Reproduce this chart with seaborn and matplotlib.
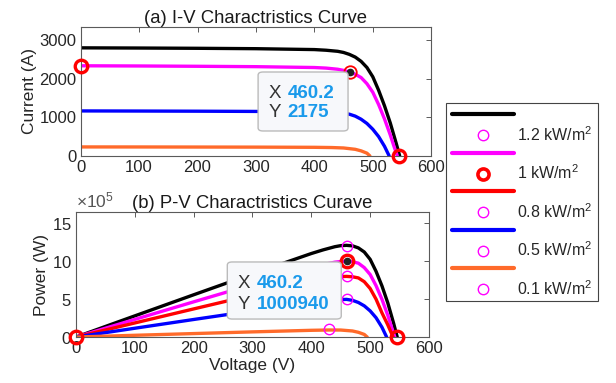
import matplotlib
matplotlib.use("Agg")
import matplotlib.pyplot as plt
import matplotlib.ticker as mticker
from matplotlib.lines import Line2D
from matplotlib.patches import FancyBboxPatch, Rectangle
import numpy as np
import pandas as pd
import seaborn as sns

# ---------------- data ----------------
# I-V curves
v_black = [0, 100, 200, 300, 400, 420, 440, 450, 460, 470, 480, 490, 500, 510, 520, 530, 540, 546]
i_black = [2800, 2795, 2788, 2778, 2755, 2738, 2710, 2680, 2630, 2560, 2450, 2290, 2050, 1700, 1300, 850, 330, 0]
v_mag = [0, 100, 200, 300, 400, 420, 440, 450, 460.2, 470, 480, 490, 500, 510, 520, 530, 536, 542]
i_mag = [2335, 2330, 2322, 2312, 2290, 2275, 2245, 2215, 2175, 2115, 2030, 1870, 1650, 1330, 960, 540, 260, 0]
v_blue = [0, 100, 200, 300, 400, 420, 440, 450, 460, 470, 480, 490, 500, 510, 520, 528]
i_blue = [1165, 1162, 1158, 1152, 1138, 1128, 1110, 1098, 1080, 1030, 950, 840, 690, 500, 250, 0]
v_orange = [0, 100, 200, 300, 400, 430, 450, 470, 480, 490, 495]
i_orange = [232, 231, 229, 227, 222, 216, 205, 170, 130, 70, 0]

# P-V curves (x1e5 W)
p_black = [0, 2.795, 5.576, 8.334, 11.02, 11.50, 11.92, 12.06, 12.10, 12.03, 11.76, 11.22, 10.25, 8.67, 6.76, 4.5, 1.78, 0]
p_mag = [0, 2.33, 4.644, 6.936, 9.16, 9.555, 9.878, 9.9675, 10.0094, 9.9405, 9.744, 9.163, 8.25, 6.783, 4.992, 2.862, 1.394, 0]
v_red = [0, 100, 200, 300, 400, 420, 440, 450, 460, 470, 480, 490, 500, 510, 520, 530, 539]
p_red = [0, 1.86, 3.71, 5.55, 7.33, 7.62, 7.92, 7.98, 8.0, 7.95, 7.8, 7.3, 6.4, 5.0, 3.2, 1.6, 0]
p_blue = [0, 1.162, 2.316, 3.456, 4.552, 4.738, 4.884, 4.941, 4.968, 4.841, 4.56, 4.116, 3.45, 2.55, 1.3, 0]
p_orange = [0, 0.231, 0.458, 0.681, 0.888, 0.929, 0.923, 0.799, 0.624, 0.343, 0]

# marked points
mpp_v = [460, 460, 460, 430]
mpp_p = [12.0, 8.0, 5.0, 1.0]           # x1e5, magenta open circles
tip_v = 460.2
tip_i = 2175
tip_p = 1000940
isc_mark = 2330
voc_mark = 545

labels = ["1.2 kW/m$^2$", "1 kW/m$^2$", "0.8 kW/m$^2$", "0.5 kW/m$^2$", "0.1 kW/m$^2$"]

C_BLACK = "#000000"
C_MAG = "#FF00FF"
C_RED = "#FF0000"
C_BLUE = "#0000FF"
C_ORANGE = "#FF6A2A"
C_TIP = "#1A9AEB"

# ---------------- style ----------------
sns.set_style("white")
plt.rcParams["font.family"] = ["Liberation Sans", "DejaVu Sans"]
plt.rcParams["mathtext.fontset"] = "custom"
plt.rcParams["mathtext.rm"] = "Liberation Sans"
plt.rcParams["axes.edgecolor"] = "#5a5a5a"
plt.rcParams["axes.linewidth"] = 0.8

fig = plt.figure(figsize=(6.16, 3.83), dpi=100)
ax1 = fig.add_axes([0.131, 0.593, 0.569, 0.3365])
ax2 = fig.add_axes([0.1234, 0.120, 0.573, 0.3265])

LW = 2.4

def line(ax, x, y, c):
    sns.lineplot(x=np.array(x, float), y=np.array(y, float), color=c, lw=LW,
                 ax=ax, estimator=None, sort=False)

# I-V
line(ax1, v_black, i_black, C_BLACK)
line(ax1, v_mag, i_mag, C_MAG)
line(ax1, v_blue, i_blue, C_BLUE)
line(ax1, v_orange, i_orange, C_ORANGE)
ax1.plot([0, voc_mark], [isc_mark, 0], ls="none", marker="o", ms=9, mfc="none",
         mec=C_RED, mew=2.4, clip_on=False, zorder=5)
ax1.plot([tip_v], [tip_i], ls="none", marker="o", ms=9, mfc="none",
         mec=C_RED, mew=1.3, zorder=5)
ax1.plot([tip_v], [tip_i], ls="none", marker="o", ms=4.5, mfc="#222222",
         mec="#222222", zorder=6)

# P-V
line(ax2, v_black, np.array(p_black) * 1e5, C_BLACK)
line(ax2, v_mag, np.array(p_mag) * 1e5, C_MAG)
line(ax2, v_red, np.array(p_red) * 1e5, C_RED)
line(ax2, v_blue, np.array(p_blue) * 1e5, C_BLUE)
line(ax2, v_orange, np.array(p_orange) * 1e5, C_ORANGE)
ax2.plot(mpp_v, np.array(mpp_p) * 1e5, ls="none", marker="o", ms=7.5, mfc="none",
         mec=C_MAG, mew=1.0, zorder=5)
ax2.plot([0, voc_mark, tip_v], [0, 0, tip_p], ls="none", marker="o", ms=9, mfc="none",
         mec=C_RED, mew=2.4, clip_on=False, zorder=5)
ax2.plot([tip_v], [tip_p], ls="none", marker="o", ms=4.5, mfc="#222222",
         mec="#222222", zorder=6)

for ax in (ax1, ax2):
    ax.set_xlim(0, 600)
    ax.set_xticks([0, 100, 200, 300, 400, 500, 600])
    ax.tick_params(direction="in", length=3.5, width=0.7, labelsize=12,
                   top=True, right=True, pad=3, colors="#5a5a5a", labelcolor="#262626")
    for s in ax.spines.values():
        s.set_visible(True)
    ax.grid(False)

ax1.set_ylim(0, 3340)
ax1.set_yticks([0, 1000, 2000, 3000])
ax1.set_title("(a) I-V Charactristics Curve", fontsize=13.3, pad=3, color="#1a1a1a")
ax1.set_ylabel("Current (A)", fontsize=12.5, labelpad=2, color="#262626")
ax1.set_xlabel("")

ax2.set_ylim(0, 1.65e6)
ax2.set_yticks([0, 5e5, 10e5, 15e5])
fmt = mticker.ScalarFormatter(useMathText=True)
fmt.set_powerlimits((5, 5))
ax2.yaxis.set_major_formatter(fmt)
ax2.yaxis.get_offset_text().set_fontsize(12.5)
ax2.yaxis.get_offset_text().set_color("#555555")
ax2.set_title("(b) P-V Charactristics Curave", fontsize=13.3, pad=3, color="#1a1a1a")
ax2.set_ylabel("Power (W)", fontsize=12.5, labelpad=2, color="#262626")
ax2.set_xlabel("Voltage (V)", fontsize=12.5, labelpad=1, color="#262626")

# legend (alternating line / marker rows as in the original)
cols = [C_BLACK, C_MAG, C_RED, C_BLUE, C_ORANGE]
handles, hlabels = [], []
for k in range(5):
    handles.append(Line2D([], [], color=cols[k], lw=3))
    hlabels.append(" ")
    if k == 1:
        handles.append(Line2D([], [], ls="none", marker="o", ms=8, mfc="none",
                              mec=C_RED, mew=2.6))
    else:
        handles.append(Line2D([], [], ls="none", marker="o", ms=7.5, mfc="none",
                              mec=C_MAG, mew=1.0))
    hlabels.append(labels[k])
leg = fig.legend(handles, hlabels, loc="upper left", bbox_to_anchor=(0.724, 0.733),
                 fontsize=11.5, frameon=False,
                 handlelength=3.9, handletextpad=0.2, labelspacing=0.15,
                 borderpad=0.35, borderaxespad=0)
frame = Rectangle((0.724, 0.214), 0.971 - 0.724, 0.731 - 0.214, transform=fig.transFigure,
                  facecolor="none", edgecolor="#444444", lw=0.8, zorder=3)
fig.patches.append(frame)

# data tips
def datatip(x0, y0, x1, y1, tx, vx, ty1, ty2, xs, ys):
    w, h = x1 - x0, y1 - y0
    box = FancyBboxPatch((x0, y0), w, h, boxstyle="round,pad=0,rounding_size=0.008",
                         transform=fig.transFigure, facecolor="#F7F8FB",
                         edgecolor="#BBBBBB", lw=1.0, zorder=10)
    fig.patches.append(box)
    fig.text(tx, ty1, "X", fontsize=13.5, color="#333333", va="center", zorder=11)
    fig.text(vx, ty1, xs, fontsize=13.5, color=C_TIP, fontweight="bold", va="center", zorder=11)
    fig.text(tx, ty2, "Y", fontsize=13.5, color="#333333", va="center", zorder=11)
    fig.text(vx, ty2, ys, fontsize=13.5, color=C_TIP, fontweight="bold", va="center", zorder=11)

datatip(0.419, 0.658, 0.565, 0.812, 0.436, 0.467, 0.757, 0.705,
        f"{tip_v:.1f}", f"{tip_i}")
datatip(0.369, 0.167, 0.554, 0.316, 0.386, 0.417, 0.261, 0.206,
        f"{tip_v:.1f}", f"{tip_p}")

fig.savefig("out.png", dpi=100)
